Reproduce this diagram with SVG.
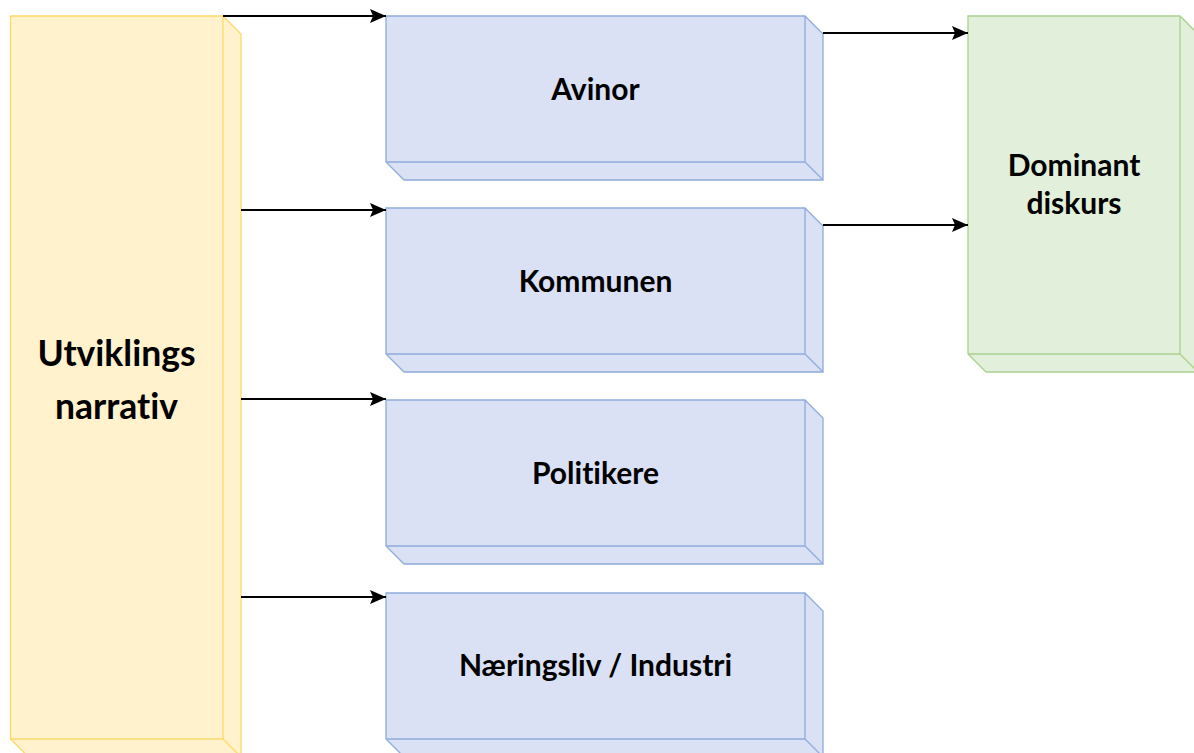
<svg xmlns="http://www.w3.org/2000/svg" width="1194" height="753" viewBox="0 0 1194 753">
<defs>
<style>
.y{fill:#fff2cc;stroke:#ffd966;stroke-width:1.3}
.b{fill:#dae1f4;stroke:#8faadc;stroke-width:1.3}
.g{fill:#e2efda;stroke:#a9d18e;stroke-width:1.3}
.e{fill:none}
.t{font-family:Lato,"Open Sans",sans-serif;font-weight:bold;fill:#000;text-anchor:middle;font-variant-ligatures:none;font-feature-settings:"liga" 0}
.c{fill:none;stroke:#000;stroke-width:2}
</style>
<marker id="ah2" viewBox="0 0 16 14" refX="16" refY="7" markerWidth="16" markerHeight="14" markerUnits="userSpaceOnUse" orient="auto">
<path d="M0,0 L16,7 L0,14 L3,7 Z" fill="#000"/>
</marker>
</defs>
<g id="utviklings">
<path class="y" d="M10.5,16 H223 L241,34 V757 H28.5 L10.5,739 Z"/>
<path class="y e" d="M10.5,739 H223 V16 M223,739 L241,757"/>
<text class="t" x="116.5" y="366" font-size="35.5">Utviklings</text>
<text class="t" x="116.5" y="419" font-size="35.5">narrativ</text>
</g>
<g id="avinor">
<path class="b" d="M386,16 H805 L823,34 V180 H404 L386,162 Z"/>
<path class="b e" d="M386,162 H805 V16 M805,162 L823,180"/>
<text class="t" x="595.5" y="100" font-size="30">Avinor</text>
</g>
<g id="kommunen">
<path class="b" d="M386,208 H805 L823,226 V372 H404 L386,354 Z"/>
<path class="b e" d="M386,354 H805 V208 M805,354 L823,372"/>
<text class="t" x="595.5" y="292" font-size="30">Kommunen</text>
</g>
<g id="politikere">
<path class="b" d="M386,400 H805 L823,418 V564 H404 L386,546 Z"/>
<path class="b e" d="M386,546 H805 V400 M805,546 L823,564"/>
<text class="t" x="595.5" y="484" font-size="30">Politikere</text>
</g>
<g id="naeringsliv">
<path class="b" d="M386,593 H805 L823,611 V757 H404 L386,739 Z"/>
<path class="b e" d="M386,739 H805 V593 M805,739 L823,757"/>
<text class="t" x="595.5" y="676" font-size="30">Næringsliv / Industri</text>
</g>
<g id="dominant">
<path class="g" d="M968,16 H1180 L1198,34 V372 H986 L968,354 Z"/>
<path class="g e" d="M968,354 H1180 V16 M1180,354 L1198,372"/>
<text class="t" x="1074" y="176" font-size="30">Dominant</text>
<text class="t" x="1074" y="214" font-size="30">diskurs</text>
</g>
<g id="connectors">
<path class="c" d="M223,16 H386" marker-end="url(#ah2)"/>
<path class="c" d="M241,210 H386" marker-end="url(#ah2)"/>
<path class="c" d="M241,399 H386" marker-end="url(#ah2)"/>
<path class="c" d="M241,597 H386" marker-end="url(#ah2)"/>
<path class="c" d="M823,33 H968" marker-end="url(#ah2)"/>
<path class="c" d="M823,225 H968" marker-end="url(#ah2)"/>
</g>
</svg>
